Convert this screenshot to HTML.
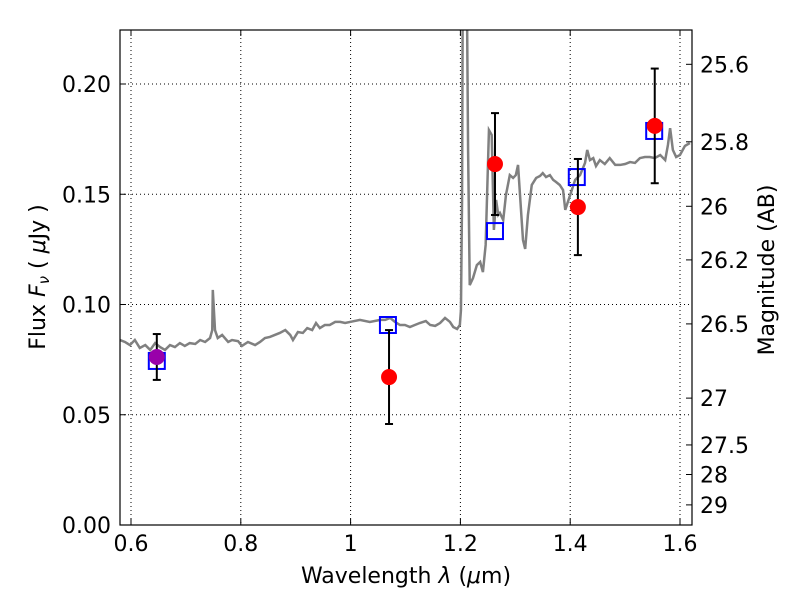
<!DOCTYPE html>
<html><head><meta charset="utf-8"><style>
body{margin:0;background:#fff}
svg text{font-family:"DejaVu Sans","Liberation Sans",sans-serif;fill:#000}
</style></head><body>
<svg id="c" width="800" height="600"></svg>
<script>
const specLam=[0.580,0.589,0.598,0.607,0.616,0.626,0.635,0.644,0.653,0.662,0.671,0.680,0.689,0.698,0.707,0.717,0.726,0.735,0.744,0.748,0.749,0.753,0.758,0.766,0.777,0.784,0.795,0.802,0.813,0.826,0.835,0.844,0.853,0.862,0.871,0.881,0.890,0.895,0.904,0.913,0.921,0.930,0.937,0.944,0.953,0.962,0.972,0.981,0.990,0.999,1.017,1.035,1.054,1.063,1.072,1.081,1.090,1.099,1.108,1.117,1.126,1.137,1.145,1.154,1.163,1.172,1.181,1.187,1.194,1.199,1.201,1.203,1.205,1.210,1.214,1.217,1.223,1.230,1.236,1.241,1.246,1.252,1.257,1.261,1.265,1.269,1.272,1.278,1.283,1.290,1.296,1.301,1.305,1.308,1.314,1.318,1.323,1.330,1.338,1.345,1.350,1.356,1.363,1.369,1.374,1.381,1.387,1.391,1.400,1.409,1.418,1.427,1.431,1.436,1.442,1.447,1.454,1.463,1.472,1.482,1.491,1.500,1.509,1.518,1.527,1.536,1.545,1.554,1.564,1.573,1.578,1.582,1.587,1.593,1.600,1.609,1.618];
const specFlux=[0.0839,0.0830,0.0816,0.0839,0.0803,0.0816,0.0794,0.0825,0.0807,0.0794,0.0816,0.0807,0.0825,0.0812,0.0825,0.0821,0.0839,0.0830,0.0848,0.0884,0.1066,0.0884,0.0848,0.0862,0.0830,0.0839,0.0834,0.0812,0.0830,0.0816,0.0830,0.0848,0.0853,0.0862,0.0871,0.0884,0.0862,0.0839,0.0875,0.0871,0.0893,0.0884,0.0916,0.0893,0.0907,0.0907,0.0921,0.0921,0.0916,0.0921,0.0930,0.0921,0.0930,0.0930,0.0939,0.0921,0.0907,0.0907,0.0898,0.0907,0.0916,0.0925,0.0907,0.0903,0.0916,0.0939,0.0921,0.0898,0.0889,0.0907,0.0975,0.1474,0.30,0.30,0.1701,0.1088,0.1120,0.1179,0.1193,0.1147,0.1270,0.1791,0.1769,0.1338,0.1474,0.1406,0.1415,0.1383,0.1497,0.1587,0.1574,0.1587,0.1633,0.1519,0.1293,0.1252,0.1406,0.1542,0.1574,0.1583,0.1596,0.1578,0.1587,0.1565,0.1556,0.1542,0.1519,0.1429,0.1497,0.1565,0.1587,0.1642,0.1701,0.1655,0.1664,0.1628,0.1655,0.1637,0.1664,0.1633,0.1633,0.1637,0.1646,0.1642,0.1664,0.1669,0.1669,0.1664,0.1678,0.1655,0.1723,0.1800,0.1701,0.1669,0.1678,0.1719,0.1732];
const obsLam=[0.647,1.070,1.263,1.414,1.554];
const obsFlux=[0.0762,0.0671,0.1637,0.1442,0.1810];
const obsErr=[0.0104,0.0213,0.0231,0.0218,0.0260];
const modLam=[0.647,1.068,1.263,1.412,1.553];
const modFlux=[0.0744,0.0907,0.1333,0.1578,0.1787];
const xTicks=[0.6,0.8,1.0,1.2,1.4,1.6];
const xTickLabels=["0.6","0.8","1","1.2","1.4","1.6"];
const yTicks=[0,0.05,0.10,0.15,0.20];
const yTickLabels=["0.00","0.05","0.10","0.15","0.20"];
const magTicks=[25.6,25.8,26,26.2,26.5,27,27.5,28,29];
const magTickLabels=["25.6","25.8","26","26.2","26.5","27","27.5","28","29"];

const L=120,R=692,T=30,B=525;
const X=v=>131+(v-0.6)*549;
const Y=v=>B-v*2205;
const svg=document.getElementById('c');
const NS='http://www.w3.org/2000/svg';
function mk(tag,at,parent){const e=document.createElementNS(NS,tag);for(const k in at)e.setAttribute(k,at[k]);(parent||svg).appendChild(e);return e;}

const defs=mk('defs',{});const cp=mk('clipPath',{id:'clip'},defs);mk('rect',{x:L,y:T,width:R-L,height:B-T},cp);

xTicks.forEach((t,i)=>{const x=X(t);
 let g=mk('line',{x1:x,x2:x,y1:T,y2:B,stroke:'#000','stroke-dasharray':'1,3','stroke-width':1});
 
 mk('line',{x1:x,x2:x,y1:B,y2:B-6,stroke:'#000'});mk('line',{x1:x,x2:x,y1:T,y2:T+6,stroke:'#000'});
 let tx=mk('text',{x:x,y:B+26,'text-anchor':'middle','font-size':22});tx.textContent=xTickLabels[i];
 });
yTicks.forEach((t,i)=>{const y=Y(t);
 let g=mk('line',{x1:L,x2:R,y1:y,y2:y,stroke:'#000','stroke-dasharray':'1,3','stroke-width':1});
 
 mk('line',{x1:L,x2:L+6,y1:y,y2:y,stroke:'#000'});
 let tx=mk('text',{x:L-9,y:y+8,'text-anchor':'end','font-size':22});tx.textContent=yTickLabels[i];
 });
magTicks.forEach((m,i)=>{const y=Y(Math.pow(10,(23.9-m)/2.5));
 mk('line',{x1:R,x2:R-6,y1:y,y2:y,stroke:'#000'});
 let tx=mk('text',{x:R+8,y:y+8,'text-anchor':'start','font-size':22});tx.textContent=magTickLabels[i];
 });

const gp=mk('g',{'clip-path':'url(#clip)'});
let sp=mk('polyline',{points:specLam.map((l,i)=>X(l)+','+Y(specFlux[i])).join(' '),fill:'none',stroke:'#808080','stroke-width':2.5},gp);


modLam.forEach((l,i)=>{let r=mk('rect',{x:X(l)-8,y:Y(modFlux[i])-8,width:16,height:16,fill:'none',stroke:'#0000ff','stroke-width':2},gp);
 });
obsLam.forEach((l,i)=>{const x=X(l),y1=Y(obsFlux[i]+obsErr[i]),y2=Y(obsFlux[i]-obsErr[i]);
 let e=mk('g',{},gp);
 mk('line',{x1:x,x2:x,y1:y1,y2:y2,stroke:'#000','stroke-width':2},e);
 mk('line',{x1:x-4,x2:x+4,y1:y1,y2:y1,stroke:'#000','stroke-width':2},e);
 mk('line',{x1:x-4,x2:x+4,y1:y2,y2:y2,stroke:'#000','stroke-width':2},e);
 let c=mk('circle',{cx:x,cy:Y(obsFlux[i]),r:8,fill:i===0?'#9900aa':'#ff0000'},gp);
 });

let fr=mk('rect',{x:L,y:T,width:R-L,height:B-T,fill:'none',stroke:'#000','stroke-width':1.2});


let xt=mk('text',{x:406,y:583,'text-anchor':'middle','font-size':22});
xt.innerHTML='Wavelength  <tspan font-style="italic">λ</tspan> (<tspan font-style="italic">μ</tspan>m)';

let yt=mk('text',{x:0,y:0,'text-anchor':'middle','font-size':22,transform:'translate(45,277) rotate(-90)'});
yt.setAttribute('xml:space','preserve');
yt.innerHTML='Flux  <tspan font-style="italic">F</tspan><tspan font-style="italic" font-size="15" dy="4">ν</tspan><tspan dy="-4">  (  </tspan><tspan font-style="italic">μ</tspan>Jy )';

let mt=mk('text',{x:0,y:0,'text-anchor':'middle','font-size':22,transform:'translate(774,270) rotate(-90)'});
mt.textContent='Magnitude (AB)';

</script>
</body></html>
